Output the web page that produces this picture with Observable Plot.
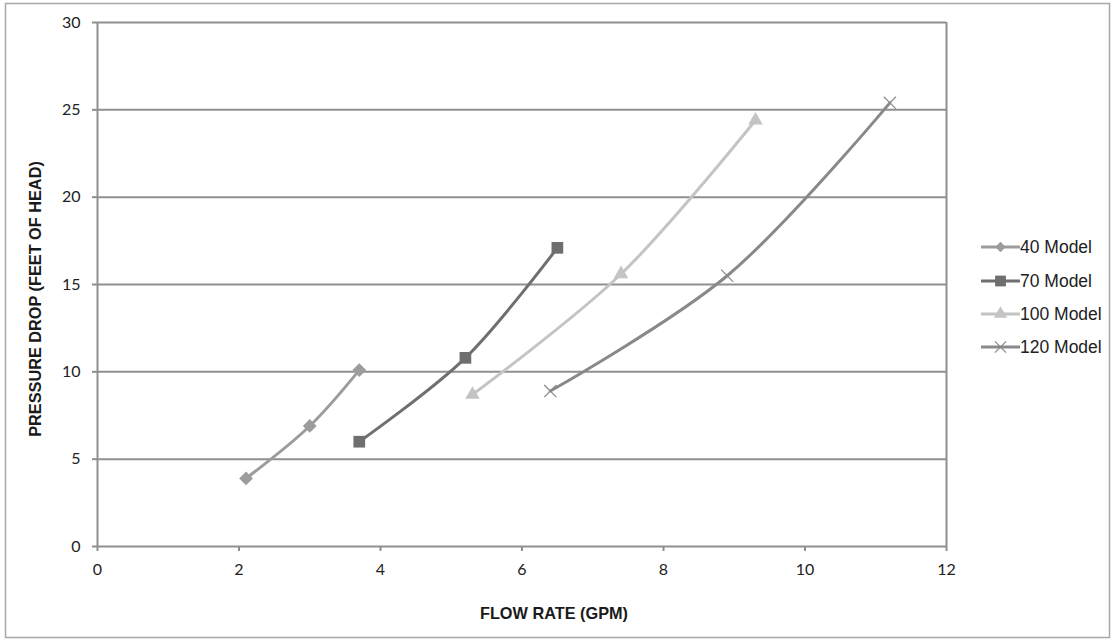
<!DOCTYPE html>
<html>
<head>
<meta charset="utf-8">
<script src="https://cdn.jsdelivr.net/npm/d3@7"></script>
<script src="https://cdn.jsdelivr.net/npm/@observablehq/plot@0.6"></script>
<style>
  html, body { margin: 0; padding: 0; background: #fff; }
  #chart { position: relative; width: 1113px; height: 640px; }
</style>
</head>
<body>
<div id="chart"></div>
<script>
const models = ["40 Model", "70 Model", "100 Model", "120 Model"];
const flow40 = [2.1, 3.0, 3.7];
const pressure40 = [3.9, 6.9, 10.1];
const flow70 = [3.7, 5.2, 6.5];
const pressure70 = [6.0, 10.8, 17.1];
const flow100 = [5.3, 7.4, 9.3];
const pressure100 = [8.7, 15.6, 24.4];
const flow120 = [6.4, 8.9, 11.2];
const pressure120 = [8.9, 15.5, 25.4];
const xTicks = [0, 2, 4, 6, 8, 10, 12];
const yTicks = [0, 5, 10, 15, 20, 25, 30];

const colors = ["#9c9c9e", "#6f6f71", "#c4c4c4", "#89898b"];
const symbols = ["diamond2", "square", "triangle", "times"];
const rs = [6.2, 6.6, 5.4, 5.6];

const flows = [flow40, flow70, flow100, flow120];
const pressures = [pressure40, pressure70, pressure100, pressure120];
const rows = [];
models.forEach((m, i) => flows[i].forEach((f, j) => rows.push({model: m, flow: f, pressure: pressures[i][j]})));

const marks = [
  Plot.ruleY(yTicks, {stroke: "#8f8f91", strokeWidth: 2}),
  Plot.ruleX([0, 12], {stroke: "#8f8f91", strokeWidth: 2}),
  Plot.axisY({ticks: yTicks, tickSize: 5, tickPadding: 12, stroke: "#8f8f91", strokeWidth: 2,
    fontSize: 16, fontFamily: "Lato", fill: "#222", label: null}),
  Plot.axisX({ticks: xTicks, tickSize: 5, tickPadding: 12, stroke: "#8f8f91", strokeWidth: 2,
    fontSize: 16, fontFamily: "Lato", fill: "#222", label: null})
];
models.forEach((m, i) => {
  const d = rows.filter(r => r.model === m);
  marks.push(Plot.line(d, {x: "flow", y: "pressure", curve: "catmull-rom", stroke: colors[i], strokeWidth: 3}));
  if (symbols[i] === "times") {
    marks.push(Plot.dot(d, {x: "flow", y: "pressure", symbol: "times", r: rs[i], stroke: colors[i], strokeWidth: 1.2}));
  } else {
    marks.push(Plot.dot(d, {x: "flow", y: "pressure", symbol: symbols[i], r: rs[i], fill: colors[i], stroke: "none"}));
  }
});

const svg = Plot.plot({
  width: 1113,
  height: 640,
  marginLeft: 97,
  marginRight: 167,
  marginTop: 22,
  marginBottom: 94,
  style: {background: "#fff"},
  x: {domain: [0, 12]},
  y: {domain: [0, 30]},
  marks
});
document.getElementById("chart").appendChild(svg);

const s = d3.select(svg);
s.insert("rect", ":first-child")
  .attr("x", 5.5).attr("y", 3.5).attr("width", 1104).attr("height", 634)
  .attr("fill", "#fff").attr("stroke", "#a8a8a8").attr("stroke-width", 1.5);

s.append("text")
  .attr("transform", "translate(35,299) rotate(-90)")
  .attr("text-anchor", "middle").attr("dy", "0.35em")
  .attr("font-family", "Liberation Sans, Arial, sans-serif")
  .attr("font-weight", "bold").attr("font-size", 16.3).attr("fill", "#1a1a1a")
  .text("PRESSURE DROP (FEET OF HEAD)");
s.append("text")
  .attr("x", 554).attr("y", 613).attr("dy", "0.35em")
  .attr("text-anchor", "middle")
  .attr("font-family", "Liberation Sans, Arial, sans-serif")
  .attr("font-weight", "bold").attr("font-size", 16.3).attr("fill", "#1a1a1a")
  .text("FLOW RATE (GPM)");

const legendY = [247, 281, 314, 347];
const symMap = {diamond2: d3.symbolSquare, square: d3.symbolSquare, triangle: d3.symbolTriangle, times: d3.symbolTimes};
models.forEach((m, i) => {
  const g = s.append("g").attr("transform", `translate(0,${legendY[i]})`);
  g.append("line").attr("x1", 981).attr("x2", 1020).attr("y1", 0).attr("y2", 0)
    .attr("stroke", colors[i]).attr("stroke-width", 3);
  const size = Math.PI * rs[i] * rs[i];
  const p = g.append("path").attr("d", d3.symbol(symMap[symbols[i]], symbols[i] === "diamond2" ? size * 0.45 : size * 0.85)())
    .attr("transform", `translate(1000.5,0)${symbols[i] === "diamond2" ? " rotate(45)" : ""}`);
  if (symbols[i] === "times") p.attr("fill", "none").attr("stroke", colors[i]).attr("stroke-width", 1.2);
  else p.attr("fill", colors[i]);
  g.append("text").attr("x", 1020).attr("y", 0).attr("dy", "0.35em")
    .attr("text-anchor", "start")
    .attr("font-family", "Liberation Sans, Arial, sans-serif").attr("font-size", 17.5).attr("fill", "#222")
    .text(m);
});
</script>
</body>
</html>
